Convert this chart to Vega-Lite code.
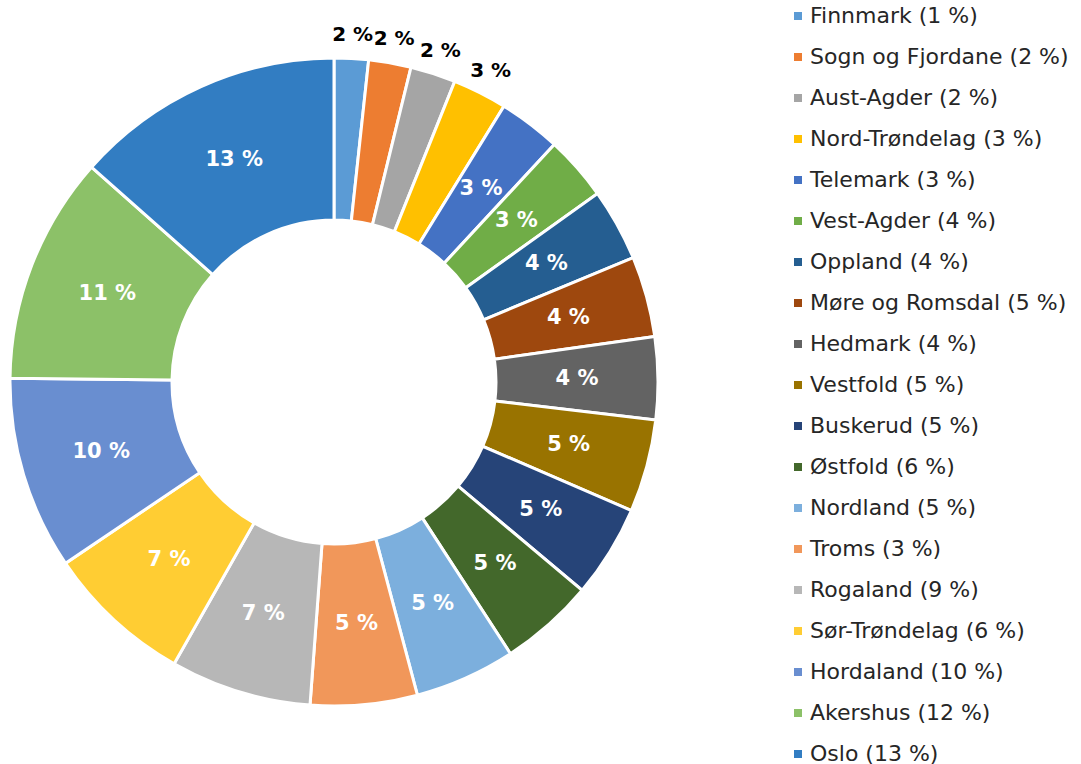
{
  "$schema": "https://vega.github.io/schema/vega-lite/v6.json",
  "width": 668,
  "height": 764,
  "padding": 0,
  "autosize": {"type": "pad"},
  "background": "white",
  "config": {"view": {"stroke": null}},
  "data": {
    "values": [
      {"order": 1, "region": "Finnmark", "legend": "Finnmark (1 %)", "value": 1.7, "label": "2 %"},
      {"order": 2, "region": "Sogn og Fjordane", "legend": "Sogn og Fjordane (2 %)", "value": 2.1, "label": "2 %"},
      {"order": 3, "region": "Aust-Agder", "legend": "Aust-Agder (2 %)", "value": 2.25, "label": "2 %"},
      {"order": 4, "region": "Nord-Trøndelag", "legend": "Nord-Trøndelag (3 %)", "value": 2.7, "label": "3 %"},
      {"order": 5, "region": "Telemark", "legend": "Telemark (3 %)", "value": 3.1, "label": "3 %"},
      {"order": 6, "region": "Vest-Agder", "legend": "Vest-Agder (4 %)", "value": 3.2, "label": "3 %"},
      {"order": 7, "region": "Oppland", "legend": "Oppland (4 %)", "value": 3.6, "label": "4 %"},
      {"order": 8, "region": "Møre og Romsdal", "legend": "Møre og Romsdal (5 %)", "value": 4.0, "label": "4 %"},
      {"order": 9, "region": "Hedmark", "legend": "Hedmark (4 %)", "value": 4.1, "label": "4 %"},
      {"order": 10, "region": "Vestfold", "legend": "Vestfold (5 %)", "value": 4.6, "label": "5 %"},
      {"order": 11, "region": "Buskerud", "legend": "Buskerud (5 %)", "value": 4.6, "label": "5 %"},
      {"order": 12, "region": "Østfold", "legend": "Østfold (6 %)", "value": 4.7, "label": "5 %"},
      {"order": 13, "region": "Nordland", "legend": "Nordland (5 %)", "value": 5.0, "label": "5 %"},
      {"order": 14, "region": "Troms", "legend": "Troms (3 %)", "value": 5.3, "label": "5 %"},
      {"order": 15, "region": "Rogaland", "legend": "Rogaland (9 %)", "value": 7.0, "label": "7 %"},
      {"order": 16, "region": "Sør-Trøndelag", "legend": "Sør-Trøndelag (6 %)", "value": 7.3, "label": "7 %"},
      {"order": 17, "region": "Hordaland", "legend": "Hordaland (10 %)", "value": 9.6, "label": "10 %"},
      {"order": 18, "region": "Akershus", "legend": "Akershus (12 %)", "value": 11.3, "label": "11 %"},
      {"order": 19, "region": "Oslo", "legend": "Oslo (13 %)", "value": 13.4, "label": "13 %"}
    ]
  },
  "encoding": {
    "theta": {"field": "value", "type": "quantitative", "stack": true},
    "order": {"field": "order", "type": "quantitative", "sort": "ascending"}
  },
  "layer": [
    {
      "mark": {"type": "arc", "radius": 324, "radius2": 162, "stroke": "white", "strokeWidth": 3},
      "encoding": {
        "color": {
          "field": "legend",
          "type": "nominal",
          "sort": null,
          "scale": {
            "domain": ["Finnmark (1 %)", "Sogn og Fjordane (2 %)", "Aust-Agder (2 %)", "Nord-Trøndelag (3 %)", "Telemark (3 %)", "Vest-Agder (4 %)", "Oppland (4 %)", "Møre og Romsdal (5 %)", "Hedmark (4 %)", "Vestfold (5 %)", "Buskerud (5 %)", "Østfold (6 %)", "Nordland (5 %)", "Troms (3 %)", "Rogaland (9 %)", "Sør-Trøndelag (6 %)", "Hordaland (10 %)", "Akershus (12 %)", "Oslo (13 %)"],
            "range": ["#5B9BD5", "#ED7D31", "#A5A5A5", "#FFC000", "#4472C4", "#70AD47", "#255E91", "#9E480E", "#636363", "#997300", "#264478", "#43682B", "#7CAFDD", "#F1975A", "#B7B7B7", "#FFCD33", "#698ED0", "#8CC168", "#327DC2"]
          },
          "legend": {
            "title": null,
            "orient": "none",
            "legendX": 787,
            "legendY": 5,
            "padding": 0,
            "symbolType": "square",
            "symbolSize": 64,
            "symbolStrokeWidth": 0,
            "labelFont": "DejaVu Sans",
            "labelFontSize": 22,
            "labelColor": "#262626",
            "labelOffset": 1,
            "rowPadding": 19,
            "labelLimit": 400
          }
        }
      }
    },
    {
      "mark": {"type": "text", "radius": 243, "font": "DejaVu Sans", "fontWeight": "bold", "fontSize": 21, "color": "white", "align": "center", "baseline": "middle"},
      "encoding": {
        "text": {"condition": {"test": "datum.value < 2.8", "value": ""}, "field": "label", "type": "nominal"}
      }
    },
    {
      "mark": {"type": "text", "radius": 348, "font": "DejaVu Sans", "fontWeight": "bold", "fontSize": 20, "color": "black", "align": "center", "baseline": "middle"},
      "encoding": {
        "text": {"condition": {"test": "datum.value >= 2.8", "value": ""}, "field": "label", "type": "nominal"}
      }
    }
  ]
}
